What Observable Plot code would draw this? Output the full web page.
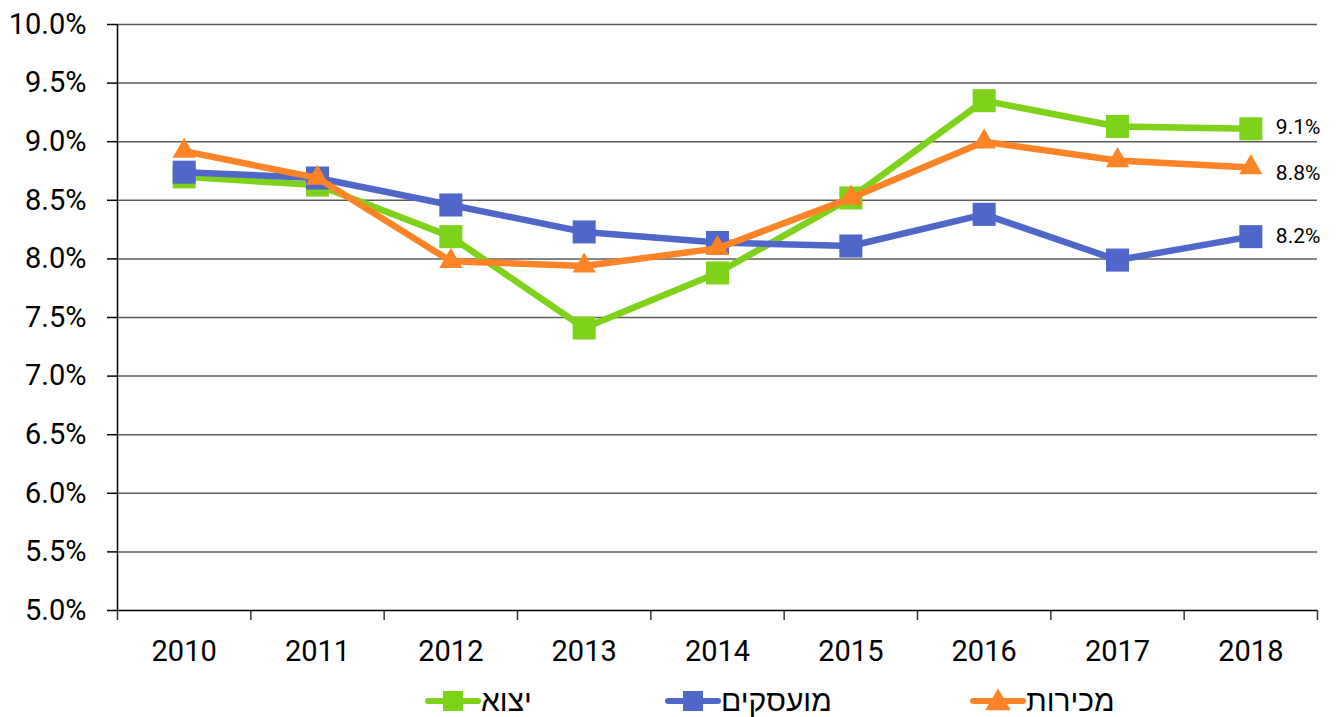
<!DOCTYPE html>
<html>
<head>
<meta charset="utf-8">
<script src="https://cdn.jsdelivr.net/npm/d3@7"></script>
<script src="https://cdn.jsdelivr.net/npm/@observablehq/plot@0.6"></script>
<style>
  html, body { margin: 0; padding: 0; background: #fff; }
  #chart svg { display: block; }
  #legend { position: relative; height: 49px; width: 1337px; }
  .item { position: absolute; top: 17px; display: flex; align-items: center; }
  .item span { font-family: "Liberation Sans", "DejaVu Sans", sans-serif; font-size: 30px; direction: rtl; color: #000; line-height: 32px; }
</style>
</head>
<body>
<div id="chart"></div>
<div id="legend"></div>
<script>
const years = [2010, 2011, 2012, 2013, 2014, 2015, 2016, 2017, 2018];
const seriesNames = ["יצוא", "מועסקים", "מכירות"];
const exportVals   = [8.70, 8.63, 8.19, 7.41, 7.88, 8.52, 9.35, 9.13, 9.11];
const employeeVals = [8.74, 8.69, 8.46, 8.23, 8.14, 8.11, 8.38, 7.99, 8.19];
const salesVals    = [8.92, 8.69, 7.98, 7.94, 8.09, 8.52, 9.00, 8.84, 8.78];
const yTicks = [5.0, 5.5, 6.0, 6.5, 7.0, 7.5, 8.0, 8.5, 9.0, 9.5, 10.0];

const seriesValues = [exportVals, employeeVals, salesVals];
const colors = ["#7ed219", "#4f67c8", "#fd8426"];
const symbols = ["square", "square", "triangle"];
const radii = [13, 13, 8.6];
const labelDy = [-2, 0, 6];

const rows = seriesNames.map((name, i) =>
  years.map((year, j) => ({ series: name, year, value: seriesValues[i][j] })));

const boundaries = years.map(y => y - 0.5).concat([years[years.length - 1] + 0.5]);

const marks = [
  Plot.ruleY(yTicks.slice(1), { stroke: "#5c5c5c", strokeWidth: 1.5 }),
  Plot.ruleY([yTicks[0]], { stroke: "#000", strokeWidth: 1.5 }),
  Plot.ruleX([boundaries[0]], { stroke: "#000", strokeWidth: 1.5 }),
  Plot.axisY({ ticks: yTicks, tickFormat: d => d.toFixed(1) + "%", tickSize: 10, tickPadding: 21, label: null, stroke: "#000", strokeOpacity: 1, strokeWidth: 1.5 }),
  Plot.axisX({ ticks: boundaries, tickFormat: () => "", tickSize: 10, label: null, strokeOpacity: 0.8, strokeWidth: 1.5 }),
  Plot.axisX({ ticks: years, tickFormat: d => String(d), tickSize: 0, tickPadding: 30, label: null })
];

rows.forEach((data, i) => {
  marks.push(Plot.line(data, { x: "year", y: "value", stroke: colors[i], strokeWidth: 6.5 }));
  marks.push(Plot.dot(data, { x: "year", y: "value", symbol: symbols[i], r: radii[i], fill: colors[i], stroke: "none" }));
});
rows.forEach((data, i) => {
  marks.push(Plot.text([data[data.length - 1]], { x: "year", y: "value", text: d => d.value.toFixed(1) + "%", dx: 25, dy: labelDy[i], textAnchor: "start", fontSize: 21, fill: "#000" }));
});

const chart = Plot.plot({
  width: 1337,
  height: 668,
  marginLeft: 117,
  marginRight: 20,
  marginTop: 24,
  marginBottom: 58,
  style: { fontFamily: "Roboto, 'Liberation Sans', sans-serif", fontSize: "29px", color: "#000", background: "#fff" },
  x: { domain: [boundaries[0], boundaries[boundaries.length - 1]] },
  y: { domain: [yTicks[0], yTicks[yTicks.length - 1]] },
  marks
});
document.getElementById("chart").appendChild(chart);

// legend
const legend = document.getElementById("legend");
const lefts = [425, 665, 970];
seriesNames.forEach((name, i) => {
  const item = document.createElement("div");
  item.className = "item";
  item.style.left = lefts[i] + "px";
  const ns = "http://www.w3.org/2000/svg";
  const svg = document.createElementNS(ns, "svg");
  svg.setAttribute("width", 56);
  svg.setAttribute("height", 26);
  const line = document.createElementNS(ns, "line");
  line.setAttribute("x1", 3); line.setAttribute("x2", 53);
  line.setAttribute("y1", 13); line.setAttribute("y2", 13);
  line.setAttribute("stroke", colors[i]); line.setAttribute("stroke-width", 6);
  line.setAttribute("stroke-linecap", "round");
  svg.appendChild(line);
  const sym = document.createElementNS(ns, "path");
  const gen = d3.symbol().type(symbols[i] === "square" ? d3.symbolSquare : d3.symbolTriangle)
    .size(symbols[i] === "square" ? 400 : 280);
  sym.setAttribute("d", gen());
  sym.setAttribute("transform", symbols[i] === "square" ? "translate(28,13)" : "translate(28,15)");
  sym.setAttribute("fill", colors[i]);
  svg.appendChild(sym);
  item.appendChild(svg);
  const span = document.createElement("span");
  span.textContent = name;
  item.appendChild(span);
  legend.appendChild(item);
});
</script>
</body>
</html>
